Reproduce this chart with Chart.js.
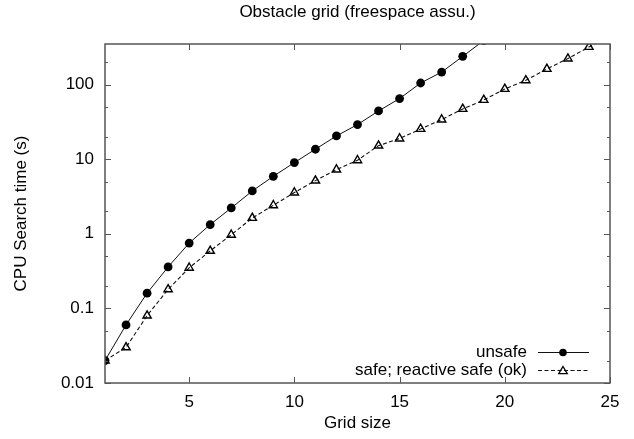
<!DOCTYPE html>
<html>
<head>
<meta charset="utf-8">
<script src="https://cdn.jsdelivr.net/npm/chart.js@4.4.1/dist/chart.umd.min.js"></script>
<style>
html,body{margin:0;padding:0;background:#fff;}
#wrap{width:634px;height:439px;}
</style>
</head>
<body>
<div id="wrap"><canvas id="c" width="634" height="439"></canvas></div>
<script>
// ---- data ----
const gridSizes = [1,2,3,4,5,6,7,8,9,10,11,12,13,14,15,16,17,18,19,20,21,22,23,24,25];
const unsafeTimes = [0.02,0.06,0.16,0.36,0.75,1.33,2.22,3.75,5.9,9.0,13.6,20.5,29.1,44.3,65,105,147,239,390];
const safeTimes = [0.02,0.03,0.08,0.18,0.35,0.59,0.97,1.63,2.41,3.57,5.16,7.26,9.67,15.2,18.9,25.4,34.0,47.1,62.2,87.3,114,162,223,319,450];
const xTickValues = [5,10,15,20,25];
const yTickValues = [0.01,0.1,1,10,100];
const yMinorValues = [0.02,0.05,0.2,0.5,2,5,20,50,200];
const seriesNames = ['unsafe','safe; reactive safe (ok)'];
const titleText = 'Obstacle grid (freespace assu.)';
const xTitle = 'Grid size';
const yTitle = 'CPU Search time (s)';

const FONT = "'Liberation Sans', Arial, Helvetica, sans-serif";
const FS = 17;

function pts(xs, ys){ return ys.map((v,i)=>({x:xs[i], y:v})); }

const framePlugin = {
  id: 'frameTicks',
  afterDatasetsDraw(chart){
    const {ctx, chartArea:a, scales:{x, y}} = chart;
    ctx.save();
    ctx.strokeStyle = '#555';
    ctx.lineWidth = 1;
    ctx.beginPath();
    xTickValues.forEach(v=>{
      const px = Math.round(x.getPixelForValue(v))+0.5;
      ctx.moveTo(px, a.bottom); ctx.lineTo(px, a.bottom-6);
      ctx.moveTo(px, a.top); ctx.lineTo(px, a.top+6);
    });
    yTickValues.forEach(v=>{
      const py = Math.round(y.getPixelForValue(v))+0.5;
      ctx.moveTo(a.left, py); ctx.lineTo(a.left+6, py);
      ctx.moveTo(a.right, py); ctx.lineTo(a.right-6, py);
    });
    yMinorValues.forEach(v=>{
      const py = Math.round(y.getPixelForValue(v))+0.5;
      ctx.moveTo(a.left, py); ctx.lineTo(a.left+3, py);
      ctx.moveTo(a.right, py); ctx.lineTo(a.right-3, py);
    });
    ctx.stroke();
    ctx.lineWidth = 1.5;
    ctx.strokeRect(a.left, a.top, a.right-a.left, a.bottom-a.top);
    ctx.restore();
  },
  afterDraw(chart){
    const {ctx} = chart;
    const a = chart.chartArea;
    ctx.save();
    ctx.font = FS + 'px ' + FONT;
    ctx.fillStyle = '#000';
    ctx.textAlign = 'right';
    ctx.textBaseline = 'middle';
    const rows = [a.bottom - 31, a.bottom - 13];
    chart.data.datasets.forEach((ds, i)=>{
      const yy = rows[i];
      const cx = a.left + 458;
      ctx.fillText(ds.label, a.left + 422, yy);
      ctx.save();
      ctx.strokeStyle = ds.borderColor;
      ctx.lineWidth = ds.borderWidth;
      ctx.setLineDash(ds.borderDash || []);
      ctx.beginPath();
      ctx.moveTo(a.left + 433, yy + 0.5);
      ctx.lineTo(a.left + 484, yy + 0.5);
      ctx.stroke();
      ctx.restore();
      ctx.save();
      ctx.fillStyle = ds.pointBackgroundColor;
      ctx.strokeStyle = ds.pointBorderColor;
      ctx.lineWidth = 1.3;
      ctx.beginPath();
      if (ds.pointStyle === 'circle') {
        ctx.arc(cx, yy + 0.5, ds.legendRadius, 0, Math.PI*2);
        ctx.fill();
      } else {
        const r = ds.legendRadius, cy = yy + 1;
        ctx.moveTo(cx, cy - r);
        ctx.lineTo(cx + r*0.95, cy + r*0.6);
        ctx.lineTo(cx - r*0.95, cy + r*0.6);
        ctx.closePath();
        ctx.stroke();
      }
      ctx.restore();
    });
    ctx.restore();
  }
};

new Chart(document.getElementById('c'), {
  type: 'line',
  data: {
    datasets: [
      {
        label: seriesNames[0],
        data: pts(gridSizes, unsafeTimes),
        borderColor: '#111', borderWidth: 1,
        pointStyle: 'circle', pointRadius: 4.4,
        pointBackgroundColor: '#000', pointBorderColor: '#000', pointBorderWidth: 0,
        legendRadius: 3.8,
        tension: 0, fill: false
      },
      {
        label: seriesNames[1],
        data: pts(gridSizes, safeTimes),
        borderColor: '#111', borderWidth: 1.1, borderDash: [4,2.5],
        pointStyle: 'triangle', pointRadius: 4.8,
        pointBackgroundColor: 'rgba(0,0,0,0)', pointBorderColor: '#000', pointBorderWidth: 1.4,
        legendRadius: 4.5,
        tension: 0, fill: false
      }
    ]
  },
  options: {
    responsive: false,
    animation: false,
    devicePixelRatio: 1,
    layout: { padding: { top: 0, right: 24, left: 0, bottom: 0 } },
    plugins: {
      legend: { display: false },
      tooltip: { enabled: false },
      title: {
        display: true, text: titleText, fullSize: false,
        color: '#000', font: { family: FONT, size: FS, weight: 'normal' },
        padding: { top: 2, bottom: 21.6 }
      }
    },
    scales: {
      x: {
        type: 'linear', min: 1, max: 25,
        afterBuildTicks: s => { s.ticks = xTickValues.map(v=>({value:v})); },
        afterFit: s => { s.height = 56; },
        grid: { display: false, drawTicks: false },
        border: { display: false },
        ticks: { color: '#000', font: { family: FONT, size: FS }, padding: 9, maxRotation: 0, autoSkip: false },
        title: { display: true, text: xTitle, color: '#000', font: { family: FONT, size: FS }, padding: { top: 0, bottom: 5 } }
      },
      y: {
        type: 'logarithmic', min: 0.01, max: 350,
        afterBuildTicks: s => { s.ticks = yTickValues.map(v=>({value:v, major:true})); },
        afterFit: s => { s.width = 105; },
        grid: { display: false, drawTicks: false },
        border: { display: false },
        ticks: { color: '#000', font: { family: FONT, size: FS }, padding: 11, autoSkip: false,
          callback: v => String(v) },
        title: { display: true, text: yTitle, color: '#000', font: { family: FONT, size: FS }, padding: { top: 11, bottom: 0 } }
      }
    }
  },
  plugins: [framePlugin]
});
</script>
</body>
</html>
